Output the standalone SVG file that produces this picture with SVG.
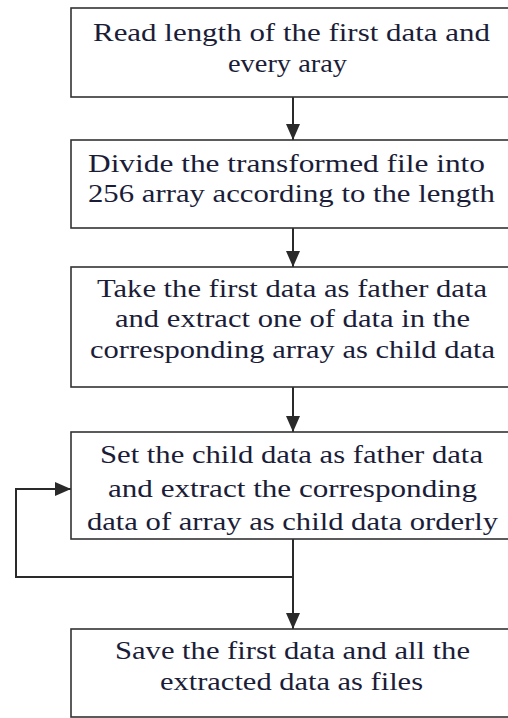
<svg xmlns="http://www.w3.org/2000/svg" width="508" height="718" viewBox="0 0 508 718">
<style>
.box{fill:#fff;stroke:#333;stroke-width:1.6}
.t{font-family:"Liberation Serif","Times New Roman",serif;font-size:25px;fill:#1b1d38;text-anchor:middle}
.c{fill:none;stroke:#2a2a2a;stroke-width:2}
</style>
<defs>
<marker id="ah" viewBox="0 0 16 14" refX="16" refY="7" markerWidth="16" markerHeight="14" markerUnits="userSpaceOnUse" orient="auto">
<path d="M0,0 L16,7 L0,14 Z" fill="#2a2a2a"/>
</marker>
</defs>
<rect width="508" height="718" fill="#fff"/>
<g id="connectors">
<line class="c" x1="293" y1="97" x2="293" y2="140" marker-end="url(#ah)"/>
<line class="c" x1="293" y1="228" x2="293" y2="267" marker-end="url(#ah)"/>
<line class="c" x1="293" y1="387" x2="293" y2="432" marker-end="url(#ah)"/>
<line class="c" x1="293" y1="539" x2="293" y2="629" marker-end="url(#ah)"/>
<polyline class="c" points="293,577 16,577 16,489 71,489" marker-end="url(#ah)"/>
</g>
<g id="n1">
<rect class="box" x="71" y="8" width="444" height="89"/>
<text class="t" x="291.5" y="41" textLength="397" lengthAdjust="spacingAndGlyphs">Read length of the first data and</text>
<text class="t" x="287.5" y="72" textLength="119" lengthAdjust="spacingAndGlyphs">every aray</text>
</g>
<g id="n2">
<rect class="box" x="71" y="140" width="444" height="88"/>
<text class="t" x="286.5" y="172" textLength="397" lengthAdjust="spacingAndGlyphs">Divide the transformed file into</text>
<text class="t" x="291.5" y="202" textLength="407" lengthAdjust="spacingAndGlyphs">256 array according to the length</text>
</g>
<g id="n3">
<rect class="box" x="71" y="267" width="444" height="120"/>
<text class="t" x="292" y="297" textLength="390" lengthAdjust="spacingAndGlyphs">Take the first data as father data</text>
<text class="t" x="292.5" y="327" textLength="355" lengthAdjust="spacingAndGlyphs">and extract one of data in the</text>
<text class="t" x="292.5" y="358" textLength="405" lengthAdjust="spacingAndGlyphs">corresponding array as child data</text>
</g>
<g id="n4">
<rect class="box" x="71" y="432" width="444" height="107"/>
<text class="t" x="291.5" y="463" textLength="383" lengthAdjust="spacingAndGlyphs">Set the child data as father data</text>
<text class="t" x="292.5" y="497" textLength="369" lengthAdjust="spacingAndGlyphs">and extract  the corresponding</text>
<text class="t" x="292.5" y="530" textLength="411" lengthAdjust="spacingAndGlyphs">data of array as child data orderly</text>
</g>
<g id="n5">
<rect class="box" x="71" y="629" width="444" height="88"/>
<text class="t" x="292.5" y="659" textLength="355" lengthAdjust="spacingAndGlyphs">Save the first data and all the</text>
<text class="t" x="291.5" y="690" textLength="263" lengthAdjust="spacingAndGlyphs">extracted data as files</text>
</g>
</svg>
